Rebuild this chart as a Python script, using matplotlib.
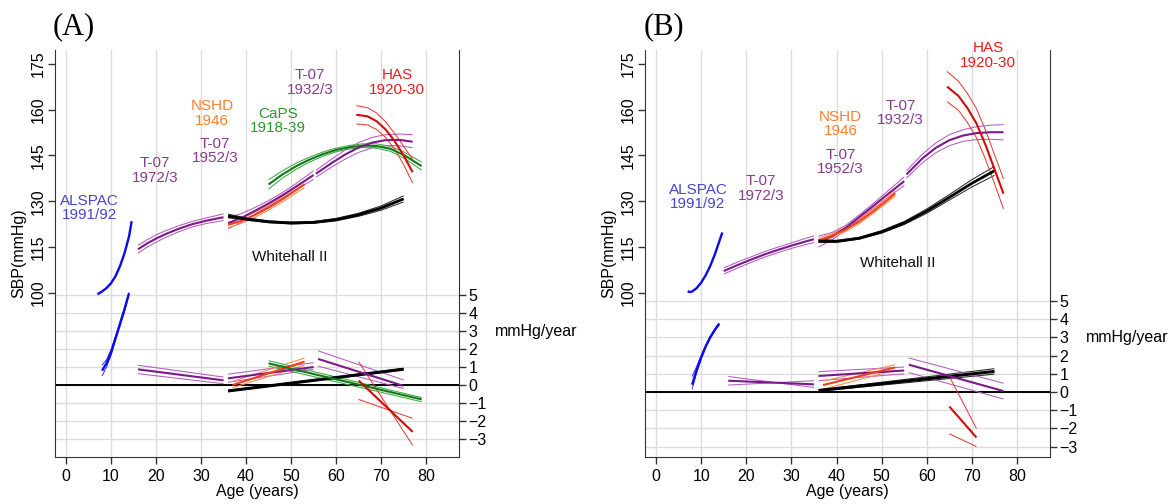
import matplotlib.pyplot as plt
import matplotlib.transforms as mtransforms
import numpy as np

plt.rcParams['font.family'] = ['Liberation Sans', 'DejaVu Sans']

AGE_TICKS = [0, 10, 20, 30, 40, 50, 60, 70, 80]
SBP_TICKS = [100, 115, 130, 145, 160, 175]
VEL_TICKS = [5, 4, 3, 2, 1, 0, -1, -2, -3]

# ---------------- panel A ----------------
A_ALSPAC_AGE = [7, 8, 9, 10, 11, 12, 13, 14, 14.6]
A_ALSPAC_SBP = [99.6, 100.5, 101.6, 103.2, 105.5, 108.8, 113.0, 118.5, 123.5]
A_ALSPAC_VAGE = [8, 9, 10, 11, 12, 13, 14]
A_ALSPAC_VEL = [0.8, 1.2, 1.8, 2.6, 3.4, 4.2, 5.1]
A_ALSPAC_VLO = [0.5, 1.0, 1.65, 2.5, 3.3, 4.1, 5.05]
A_ALSPAC_VHI = [1.1, 1.4, 1.95, 2.7, 3.5, 4.3, 5.15]

A_T72_AGE = [16, 18, 20, 22, 25, 28, 31, 35]
A_T72_SBP = [114.3, 116.2, 117.8, 119.2, 121.0, 122.5, 123.6, 124.8]
A_T72_LO = [113.0, 115.0, 116.6, 118.1, 120.0, 121.6, 122.7, 123.7]
A_T72_HI = [115.6, 117.4, 119.0, 120.3, 122.0, 123.4, 124.5, 125.9]
A_T72_VAGE = [16, 35]
A_T72_VEL = [0.87, 0.26]
A_T72_VLO = [0.63, 0.07]
A_T72_VHI = [1.1, 0.44]

A_T52_AGE = [36, 39, 42, 45, 48, 51, 55]
A_T52_SBP = [122.8, 124.6, 126.9, 129.3, 131.9, 134.7, 138.6]
A_T52_LO = [121.0, 123.2, 125.8, 128.4, 131.0, 133.7, 137.2]
A_T52_HI = [124.6, 126.0, 128.0, 130.2, 132.8, 135.7, 140.0]
A_T52_VAGE = [36, 55]
A_T52_VEL = [0.37, 1.0]
A_T52_VLO = [0.15, 0.87]
A_T52_VHI = [0.6, 1.24]

A_NSHD_AGE = [36, 39, 42, 45, 48, 51, 53]
A_NSHD_SBP = [122.3, 123.6, 125.6, 127.9, 130.6, 133.6, 135.6]
A_NSHD_LO = [121.4, 122.8, 124.8, 127.1, 129.7, 132.6, 134.5]
A_NSHD_HI = [123.2, 124.4, 126.4, 128.7, 131.5, 134.6, 136.7]
A_NSHD_VAGE = [37, 53]
A_NSHD_VEL = [0.0, 1.3]
A_NSHD_VLO = [-0.15, 1.1]
A_NSHD_VHI = [0.2, 1.5]

A_WH_AGE = [36, 40, 45, 50, 55, 60, 65, 70, 75]
A_WH_SBP = [125.2, 124.2, 123.3, 122.9, 123.1, 124.0, 125.6, 127.8, 130.8]
A_WH_LO = [124.6, 123.8, 123.0, 122.6, 122.8, 123.6, 125.1, 127.1, 129.8]
A_WH_HI = [125.8, 124.6, 123.6, 123.2, 123.4, 124.4, 126.1, 128.5, 131.8]
A_WH_VAGE = [36, 75]
A_WH_VEL = [-0.33, 0.88]
A_WH_VLO = [-0.36, 0.84]
A_WH_VHI = [-0.3, 0.92]

A_CAPS_AGE = [45, 48, 51, 54, 57, 60, 63, 66, 69, 72, 75, 79]
A_CAPS_SBP = [135.5, 138.7, 141.4, 143.6, 145.4, 146.8, 147.7, 148.2, 148.1, 147.2, 145.2, 141.5]
A_CAPS_LO = [134.0, 137.5, 140.4, 142.8, 144.7, 146.2, 147.1, 147.6, 147.4, 146.4, 144.2, 140.2]
A_CAPS_HI = [137.0, 139.9, 142.4, 144.4, 146.1, 147.4, 148.3, 148.8, 148.8, 148.0, 146.2, 142.8]
A_CAPS_VAGE = [45, 79]
A_CAPS_VEL = [1.2, -0.8]
A_CAPS_VLO = [1.05, -0.93]
A_CAPS_VHI = [1.35, -0.7]

A_T32_AGE = [55.5, 59, 62, 65, 68, 71, 74, 77]
A_T32_SBP = [139.0, 142.5, 145.3, 147.6, 149.2, 150.0, 150.1, 149.5]
A_T32_LO = [137.9, 141.2, 143.8, 146.0, 147.5, 148.2, 148.2, 147.5]
A_T32_HI = [140.1, 143.8, 146.8, 149.2, 150.9, 151.8, 152.0, 151.8]
A_T32_VAGE = [56, 75]
A_T32_VEL = [1.45, -0.05]
A_T32_VLO = [1.05, -0.2]
A_T32_VHI = [1.9, 0.28]

A_HAS_AGE = [64.5, 67, 69, 71, 73, 75, 77]
A_HAS_SBP = [158.3, 157.8, 156.2, 153.5, 149.7, 145.0, 139.5]
A_HAS_LO = [155.3, 155.0, 153.5, 150.9, 147.1, 142.0, 136.0]
A_HAS_HI = [161.3, 160.6, 158.9, 156.0, 152.2, 148.0, 143.7]
A_HAS_VAGE = [65, 77]
A_HAS_VEL = [0.25, -2.6]
A_HAS_VLO = [-0.8, -1.85]
A_HAS_VHI = [1.3, -3.35]

# ---------------- panel B ----------------
B_ALSPAC_AGE = [7, 7.5, 8, 9, 10, 11, 12, 13, 14, 14.7]
B_ALSPAC_SBP = [100.6, 100.3, 100.5, 101.6, 103.4, 105.8, 108.8, 112.5, 116.8, 119.8]
B_ALSPAC_VAGE = [8, 9, 10, 11, 12, 13, 14]
B_ALSPAC_VEL = [0.4, 1.2, 1.9, 2.5, 3.0, 3.4, 3.75]
B_ALSPAC_VLO = [0.15, 1.05, 1.8, 2.45, 2.95, 3.35, 3.7]
B_ALSPAC_VHI = [0.85, 1.4, 2.0, 2.55, 3.05, 3.45, 3.8]

B_T72_AGE = [15, 18, 21, 24, 27, 30, 33, 35]
B_T72_SBP = [107.2, 109.1, 110.9, 112.6, 114.1, 115.5, 116.8, 117.6]
B_T72_LO = [106.2, 108.1, 110.0, 111.7, 113.2, 114.6, 115.8, 116.5]
B_T72_HI = [108.2, 110.1, 111.8, 113.5, 115.0, 116.4, 117.8, 118.7]
B_T72_VAGE = [16, 35]
B_T72_VEL = [0.62, 0.42]
B_T72_VLO = [0.38, 0.62]
B_T72_VHI = [0.85, 0.25]

B_T52_AGE = [36, 39, 42, 45, 48, 51, 55]
B_T52_SBP = [116.8, 118.6, 121.3, 124.8, 128.3, 131.9, 136.6]
B_T52_LO = [115.0, 117.4, 120.5, 124.1, 127.5, 130.9, 135.2]
B_T52_HI = [118.6, 119.8, 122.1, 125.5, 129.1, 132.9, 138.0]
B_T52_VAGE = [36, 55]
B_T52_VEL = [0.88, 1.18]
B_T52_VLO = [0.62, 1.0]
B_T52_VHI = [1.12, 1.37]

B_NSHD_AGE = [36, 39, 42, 45, 48, 51, 53]
B_NSHD_SBP = [117.2, 118.8, 120.8, 123.4, 126.6, 130.1, 132.6]
B_NSHD_LO = [116.5, 118.1, 120.1, 122.7, 125.9, 129.3, 131.8]
B_NSHD_HI = [117.9, 119.5, 121.5, 124.1, 127.3, 130.9, 133.4]
B_NSHD_VAGE = [37, 53]
B_NSHD_VEL = [0.38, 1.35]
B_NSHD_VLO = [0.15, 1.2]
B_NSHD_VHI = [0.6, 1.5]

B_WH_AGE = [36, 40, 45, 50, 55, 60, 65, 70, 75]
B_WH_SBP = [117.0, 116.9, 117.9, 120.0, 122.9, 126.8, 131.3, 135.9, 140.0]
B_WH_LO = [116.5, 116.6, 117.6, 119.6, 122.4, 126.1, 130.4, 134.7, 138.5]
B_WH_HI = [117.5, 117.2, 118.2, 120.4, 123.4, 127.5, 132.2, 137.1, 141.4]
B_WH_VAGE = [36, 75]
B_WH_VEL = [0.08, 1.13]
B_WH_VLO = [0.04, 0.98]
B_WH_VHI = [0.12, 1.28]

B_T32_AGE = [55.5, 59, 62, 65, 68, 71, 74, 77]
B_T32_SBP = [138.8, 144.0, 147.5, 150.0, 151.5, 152.3, 152.6, 152.6]
B_T32_LO = [137.6, 142.6, 145.9, 148.2, 149.6, 150.2, 150.3, 150.1]
B_T32_HI = [140.0, 145.4, 149.1, 151.8, 153.4, 154.4, 154.9, 155.1]
B_T32_VAGE = [56, 77]
B_T32_VEL = [1.5, 0.05]
B_T32_VLO = [1.07, -0.39]
B_T32_VHI = [1.87, 0.48]

B_HAS_AGE = [64.5, 67, 69, 71, 73, 75, 77]
B_HAS_SBP = [167.5, 164.5, 160.5, 155.5, 148.5, 140.5, 132.5]
B_HAS_LO = [162.6, 159.8, 155.8, 150.8, 143.8, 135.8, 127.5]
B_HAS_HI = [172.5, 169.3, 165.3, 160.3, 153.3, 145.3, 137.3]
B_HAS_VAGE = [65, 71]
B_HAS_VEL = [-0.8, -2.5]
B_HAS_VLO = [-2.3, -3.0]
B_HAS_VHI = [0.85, -2.0]

# colours: (centre line, CI lines, label)
COL = {
    'alspac': ('#0a0af0', '#3a3af5', '#4646d2'),
    't07': ('#7a1a88', '#b45cc4', '#873c8c'),
    'nshd': ('#f0401a', '#ff8a4a', '#ff7f2e'),
    'caps': ('#12781a', '#3caa40', '#2a9a2a'),
    'has': ('#d40a0a', '#ee3a3a', '#ea1c1c'),
    'wh': ('#000000', '#2a2a2a', '#111111'),
}

# (text, age, SBP, cohort)
A_LABELS = [
    ('ALSPAC\n1991/92', 5.3, 127.8, 'alspac'),
    ('T-07\n1972/3', 19.8, 140.1, 't07'),
    ('NSHD\n1946', 32.4, 158.7, 'nshd'),
    ('T-07\n1952/3', 33.1, 146.5, 't07'),
    ('CaPS\n1918-39', 47.1, 156.3, 'caps'),
    ('T-07\n1932/3', 54.2, 168.9, 't07'),
    ('HAS\n1920-30', 73.6, 168.9, 'has'),
    ('Whitehall II', 49.8, 111.9, 'wh'),
]
B_LABELS = [
    ('ALSPAC\n1991/92', 9.3, 131.4, 'alspac'),
    ('T-07\n1972/3', 23.3, 134.2, 't07'),
    ('NSHD\n1946', 40.9, 155.3, 'nshd'),
    ('T-07\n1952/3', 40.9, 142.9, 't07'),
    ('T-07\n1932/3', 54.2, 158.9, 't07'),
    ('HAS\n1920-30', 73.6, 177.7, 'has'),
    ('Whitehall II', 53.5, 109.7, 'wh'),
]


def curve(ax, x, mid, lo, hi, key, conv, lw_mid=1.5, lw_ci=0.75):
    c_mid, c_ci, _ = COL[key]
    if lo is not None:
        ax.plot(x, conv(lo), color=c_ci, lw=lw_ci, solid_capstyle='butt', zorder=3)
        ax.plot(x, conv(hi), color=c_ci, lw=lw_ci, solid_capstyle='butt', zorder=3)
    ax.plot(x, conv(mid), color=c_mid, lw=lw_mid, solid_capstyle='butt', zorder=4)


def setup_panel(ax, base, scale, tag, labels):
    # velocities share the same axes: mapped linearly into the SBP coordinate
    def v2s(v):
        return base + scale * np.asarray(v, dtype=float)

    def s2v(s):
        return (np.asarray(s, dtype=float) - base) / scale

    ax.set_xlim(-2.44, 87.3)
    ax.set_ylim(46.35, 179.5)
    for a in AGE_TICKS:
        ax.axvline(a, color='#dcdcdc', lw=1.0, zorder=0)
    for v in VEL_TICKS:
        ax.axhline(v2s(v), color='#dcdcdc', lw=1.0, zorder=0)
    ax.axhline(v2s(0), color='black', lw=1.4, zorder=2)

    ax.set_xticks(AGE_TICKS)
    ax.set_yticks(SBP_TICKS)
    ax.tick_params(axis='both', labelsize=11.5, length=5, width=1, color='#333333')
    ax.tick_params(axis='y', labelrotation=90, pad=2)
    for lab in ax.get_yticklabels():
        lab.set_va('center')
    ax.spines['top'].set_visible(False)
    ax.spines['right'].set_visible(False)
    for s in ('left', 'bottom'):
        ax.spines[s].set_color('#333333')
    ax.set_xlabel('Age (years)', fontsize=11.5, labelpad=0)
    ax.set_ylabel('SBP(mmHg)', fontsize=11.5, labelpad=3)

    sec = ax.secondary_yaxis('right', functions=(s2v, v2s))
    sec.set_yticks(VEL_TICKS)
    sec.tick_params(labelsize=11.5, length=5, width=1, color='#333333', pad=2)
    sec.spines['right'].set_color('#333333')
    trans = mtransforms.blended_transform_factory(ax.transAxes, ax.transData)
    ax.text(1.089, v2s(3), 'mmHg/year', transform=trans, fontsize=11.5,
            ha='left', va='center')

    for txt, x, y, key in labels:
        ax.text(x, y, txt, color=COL[key][2], fontsize=11, ha='center',
                va='center', linespacing=1.05, zorder=5)
    ax.text(0.047, 1.058, tag, transform=ax.transAxes, fontsize=22,
            family='Liberation Serif', ha='center', va='center')
    return v2s


fig = plt.figure(figsize=(11.76, 5.04), dpi=100)
axA = fig.add_axes([55 / 1176, 47 / 504, 404 / 1176, 407 / 504])
axB = fig.add_axes([645 / 1176, 47 / 504, 405 / 1176, 407 / 504])

ident = lambda y: np.asarray(y, dtype=float)

# panel A
vA = setup_panel(axA, 69.9, 5.888, '(A)', A_LABELS)
curve(axA, A_ALSPAC_AGE, A_ALSPAC_SBP, None, None, 'alspac', ident, lw_mid=1.7)
curve(axA, A_ALSPAC_VAGE, A_ALSPAC_VEL, A_ALSPAC_VLO, A_ALSPAC_VHI, 'alspac', vA, lw_mid=1.7)
curve(axA, A_T72_AGE, A_T72_SBP, A_T72_LO, A_T72_HI, 't07', ident)
curve(axA, A_T72_VAGE, A_T72_VEL, A_T72_VLO, A_T72_VHI, 't07', vA)
curve(axA, A_T52_AGE, A_T52_SBP, A_T52_LO, A_T52_HI, 't07', ident)
curve(axA, A_T52_VAGE, A_T52_VEL, A_T52_VLO, A_T52_VHI, 't07', vA)
curve(axA, A_NSHD_AGE, A_NSHD_SBP, A_NSHD_LO, A_NSHD_HI, 'nshd', ident)
curve(axA, A_NSHD_VAGE, A_NSHD_VEL, A_NSHD_VLO, A_NSHD_VHI, 'nshd', vA)
curve(axA, A_WH_AGE, A_WH_SBP, A_WH_LO, A_WH_HI, 'wh', ident, lw_mid=2.0)
curve(axA, A_WH_VAGE, A_WH_VEL, A_WH_VLO, A_WH_VHI, 'wh', vA, lw_mid=2.2)
curve(axA, A_CAPS_AGE, A_CAPS_SBP, A_CAPS_LO, A_CAPS_HI, 'caps', ident)
curve(axA, A_CAPS_VAGE, A_CAPS_VEL, A_CAPS_VLO, A_CAPS_VHI, 'caps', vA)
curve(axA, A_T32_AGE, A_T32_SBP, A_T32_LO, A_T32_HI, 't07', ident)
curve(axA, A_T32_VAGE, A_T32_VEL, A_T32_VLO, A_T32_VHI, 't07', vA)
curve(axA, A_HAS_AGE, A_HAS_SBP, A_HAS_LO, A_HAS_HI, 'has', ident)
curve(axA, A_HAS_VAGE, A_HAS_VEL, A_HAS_VLO, A_HAS_VHI, 'has', vA)

# panel B
vB = setup_panel(axB, 67.62, 5.954, '(B)', B_LABELS)
curve(axB, B_ALSPAC_AGE, B_ALSPAC_SBP, None, None, 'alspac', ident, lw_mid=1.7)
curve(axB, B_ALSPAC_VAGE, B_ALSPAC_VEL, B_ALSPAC_VLO, B_ALSPAC_VHI, 'alspac', vB, lw_mid=1.7)
curve(axB, B_T72_AGE, B_T72_SBP, B_T72_LO, B_T72_HI, 't07', ident)
curve(axB, B_T72_VAGE, B_T72_VEL, B_T72_VLO, B_T72_VHI, 't07', vB)
curve(axB, B_T52_AGE, B_T52_SBP, B_T52_LO, B_T52_HI, 't07', ident)
curve(axB, B_T52_VAGE, B_T52_VEL, B_T52_VLO, B_T52_VHI, 't07', vB)
curve(axB, B_NSHD_AGE, B_NSHD_SBP, B_NSHD_LO, B_NSHD_HI, 'nshd', ident)
curve(axB, B_NSHD_VAGE, B_NSHD_VEL, B_NSHD_VLO, B_NSHD_VHI, 'nshd', vB)
curve(axB, B_WH_AGE, B_WH_SBP, B_WH_LO, B_WH_HI, 'wh', ident, lw_mid=2.0)
curve(axB, B_WH_VAGE, B_WH_VEL, B_WH_VLO, B_WH_VHI, 'wh', vB, lw_mid=2.2)
curve(axB, B_T32_AGE, B_T32_SBP, B_T32_LO, B_T32_HI, 't07', ident)
curve(axB, B_T32_VAGE, B_T32_VEL, B_T32_VLO, B_T32_VHI, 't07', vB)
curve(axB, B_HAS_AGE, B_HAS_SBP, B_HAS_LO, B_HAS_HI, 'has', ident)
curve(axB, B_HAS_VAGE, B_HAS_VEL, B_HAS_VLO, B_HAS_VHI, 'has', vB)

fig.savefig('out.png', dpi=100)
